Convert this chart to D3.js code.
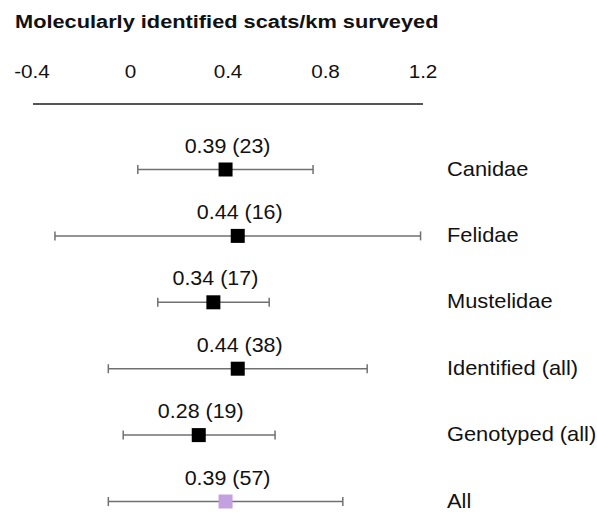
<!DOCTYPE html>
<html>
<head>
<meta charset="utf-8">
<script src="https://cdn.jsdelivr.net/npm/d3@7"></script>
<style>
  html, body { margin: 0; padding: 0; background: #fff; }
  svg text { font-family: "Liberation Sans", Arial, Helvetica, sans-serif; fill: #111; }
</style>
</head>
<body>
<svg id="chart" width="597" height="512"></svg>
<script>
const categories = ["Canidae", "Felidae", "Mustelidae", "Identified (all)", "Genotyped (all)", "All"];
const means = [0.39, 0.44, 0.34, 0.44, 0.28, 0.39];
const counts = [23, 16, 17, 38, 19, 57];
const lower = [0.03, -0.31, 0.112, -0.091, -0.03, -0.091];
const upper = [0.749, 1.19, 0.569, 0.971, 0.593, 0.871];
const tickValues = [-0.4, 0, 0.4, 0.8, 1.2];
const tickLabels = ["-0.4", "0", "0.4", "0.8", "1.2"];
const title = "Molecularly identified scats/km surveyed";

const data = categories.map((c, i) => ({
  cat: c, mean: means[i], n: counts[i], lo: lower[i], hi: upper[i], highlight: c === "All"
}));

const svg = d3.select("#chart");
const x = d3.scaleLinear().domain([-0.4, 1.2]).range([33, 423]);
const y = d3.scalePoint().domain(categories).range([169.5, 501.5]);

// Title
svg.append("text")
  .attr("transform", "translate(15,28) scale(1.21,1)")
  .attr("font-size", 18)
  .attr("font-weight", "bold")
  .text(title);

// Axis (tick labels above a plain line)
const axisG = svg.append("g");
axisG.append("line")
  .attr("x1", x.range()[0]).attr("x2", x.range()[1])
  .attr("y1", 104).attr("y2", 104)
  .attr("stroke", "#555").attr("stroke-width", 2);
axisG.selectAll("text.tick")
  .data(tickValues)
  .join("text")
  .attr("class", "tick")
  .attr("transform", (d, i) => `translate(${x(d) - (i === 0 ? 1 : 0)},78) scale(1.15,1)`)
  .attr("text-anchor", "middle")
  .attr("font-size", 18)
  .text((d, i) => tickLabels[i]);

// Rows
const rows = svg.append("g").selectAll("g.row")
  .data(data)
  .join("g")
  .attr("class", "row");

const capH = 4.5;
const barColor = "#707070";
rows.append("line")
  .attr("x1", d => x(d.lo)).attr("x2", d => x(d.hi))
  .attr("y1", d => y(d.cat)).attr("y2", d => y(d.cat))
  .attr("stroke", barColor).attr("stroke-width", 1.5);
rows.append("line")
  .attr("x1", d => x(d.lo)).attr("x2", d => x(d.lo))
  .attr("y1", d => y(d.cat) - capH).attr("y2", d => y(d.cat) + capH)
  .attr("stroke", barColor).attr("stroke-width", 1.5);
rows.append("line")
  .attr("x1", d => x(d.hi)).attr("x2", d => x(d.hi))
  .attr("y1", d => y(d.cat) - capH).attr("y2", d => y(d.cat) + capH)
  .attr("stroke", barColor).attr("stroke-width", 1.5);

const sq = 14;
rows.append("rect")
  .attr("x", d => x(d.mean) - sq / 2)
  .attr("y", d => y(d.cat) - sq / 2)
  .attr("width", sq).attr("height", sq)
  .attr("fill", d => d.highlight ? "#c3a0e0" : "#000");

rows.append("text")
  .attr("transform", d => `translate(${x(d.mean) + 2},${y(d.cat) - 17}) scale(1.1,1)`)
  .attr("text-anchor", "middle")
  .attr("font-size", 19.5)
  .text(d => `${d.mean.toFixed(2)} (${d.n})`);

rows.append("text")
  .attr("transform", d => `translate(447,${y(d.cat) + 6}) scale(1.04,1)`)
  .attr("font-size", 21)
  .text(d => d.cat);
</script>
</body>
</html>
